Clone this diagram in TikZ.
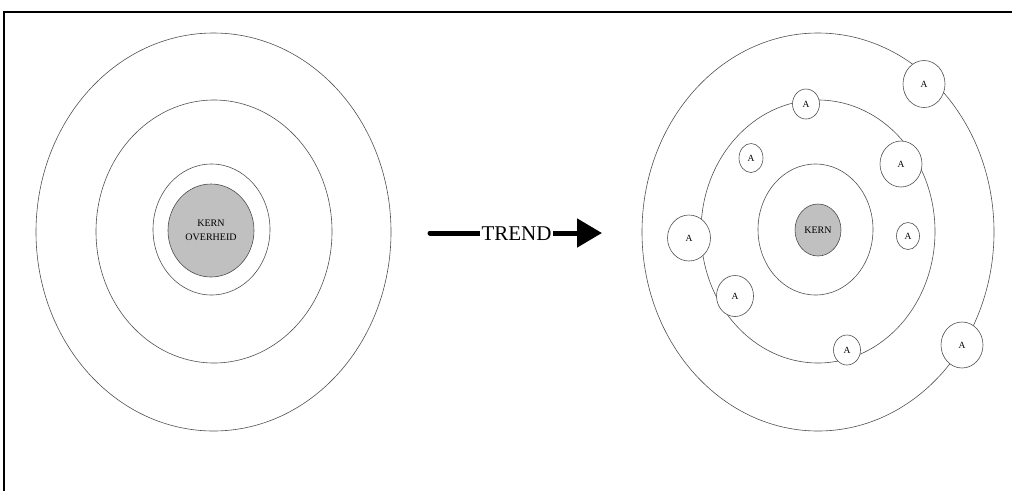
\documentclass[tikz,border=0pt]{standalone}
\usepackage{fontspec}
\setmainfont{Liberation Serif}
\usetikzlibrary{shapes.geometric,arrows.meta}
\definecolor{ringline}{HTML}{505050}
\definecolor{corefill}{HTML}{C0C0C0}
\begin{document}
\begin{tikzpicture}[x=1pt,y=-1pt,
  ring/.style={ellipse, draw=ringline, line width=0.6pt, inner sep=0pt},
  core/.style={ring, fill=corefill, draw=black!70, align=center,
               font=\fontsize{10}{14}\selectfont},
  actor/.style={ring, fill=white, font=\fontsize{9.5}{10}\selectfont},
  frameline/.style={line width=2pt},
  trendline/.style={line width=5pt, line cap=round,
                    -{Triangle[length=25pt,width=28pt]}},
  trendlabel/.style={fill=white, inner xsep=1.5pt, inner ysep=0pt,
                     font=\fontsize{21}{21}\selectfont}]
\useasboundingbox (0,0) rectangle (1012,491);

% frame
\draw[frameline] (3.5,491) -- (3.5,12) -- (1012,12);

% left: government as one core with rings
\node[ring, minimum width=355pt, minimum height=398pt] (Lout) at (213.5,232) {};
\node[ring, minimum width=236pt, minimum height=263pt] (Lmid) at (214,231.5) {};
\node[ring, minimum width=117pt, minimum height=131pt] (Linn) at (211.5,229.5) {};
\node[core, minimum width=86pt, minimum height=93pt] (Lcore) at (211,230.5) {KERN\\OVERHEID};

% trend arrow
\coordinate (tstart) at (430,233);
\coordinate (ttip) at (602,233);
\draw[trendline] (tstart) -- (ttip);
\node[trendlabel, anchor=base] (trend) at (516.5,240.5) {TREND};

% right: smaller core with actors spread over the rings
\node[ring, minimum width=352pt, minimum height=398pt] (Rout) at (818,232) {};
\node[ring, minimum width=234pt, minimum height=263pt] (Rmid) at (818,231.5) {};
\node[ring, minimum width=115pt, minimum height=131pt] (Rinn) at (815.5,229.5) {};
\node[core, minimum width=46pt, minimum height=52pt] (Rcore) at (818,230) {KERN};

\node[actor, minimum width=42pt, minimum height=47pt] (a1) at (924,84) {A};
\node[actor, minimum width=27pt, minimum height=30pt] (a2) at (806,104) {A};
\node[actor, minimum width=24pt, minimum height=29pt] (a3) at (751,158) {A};
\node[actor, minimum width=42pt, minimum height=46pt] (a4) at (901,164) {A};
\node[actor, minimum width=43pt, minimum height=46pt] (a5) at (689,238) {A};
\node[actor, minimum width=23pt, minimum height=27pt] (a6) at (908,236) {A};
\node[actor, minimum width=37pt, minimum height=41pt] (a7) at (735,296) {A};
\node[actor, minimum width=27pt, minimum height=30pt] (a8) at (847,350) {A};
\node[actor, minimum width=42pt, minimum height=46pt] (a9) at (962,345) {A};
\end{tikzpicture}
\end{document}
